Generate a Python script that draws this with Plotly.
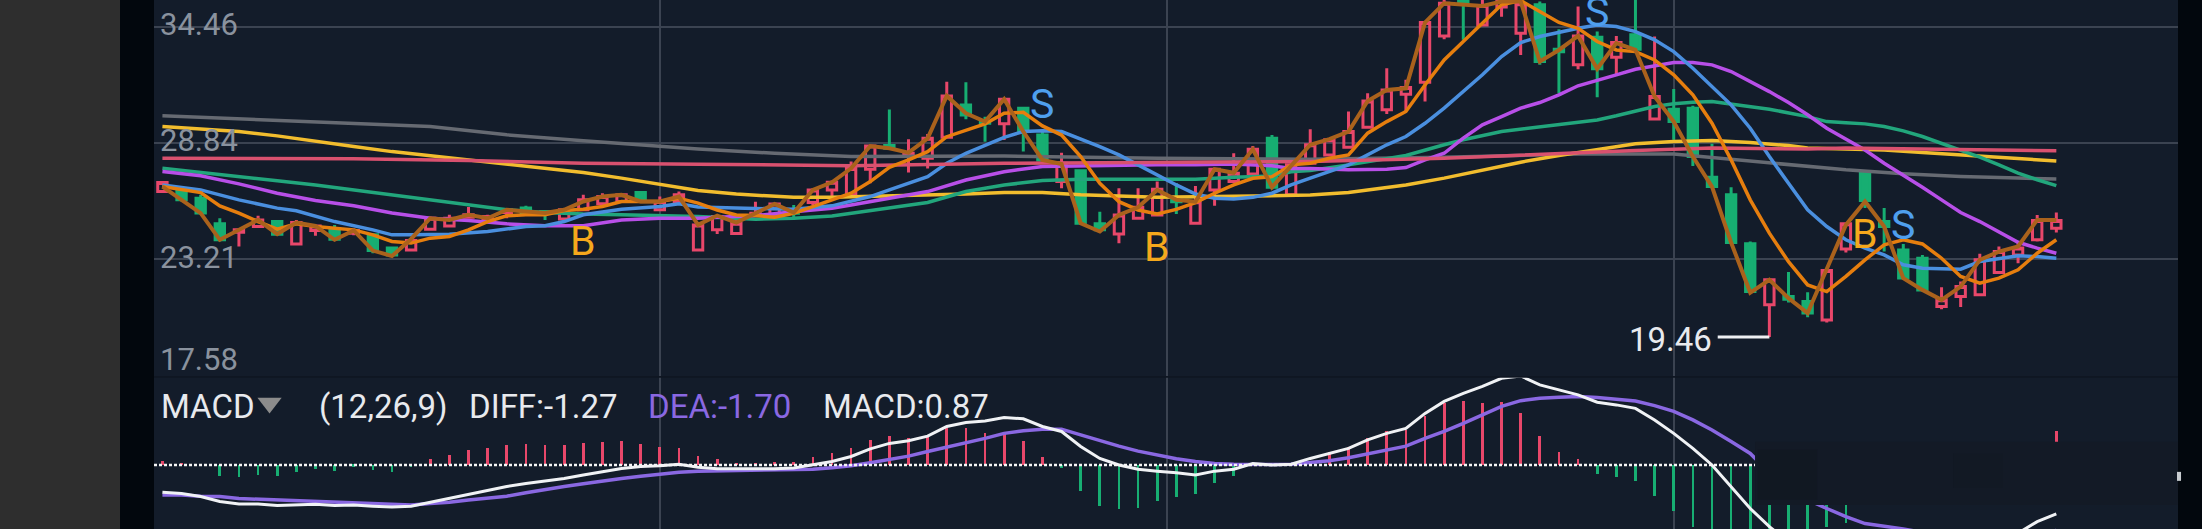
#!/usr/bin/env python3
"""
K-line chart with moving averages and a MACD panel below
"""

import plotly.graph_objects as go
from plotly.subplots import make_subplots

# Candles, one row per trading day
opens = [26.49,26.49,26.17,24.93,24.53,24.80,25.04,23.96,24.61,24.64,24.48,24.40,23.76,23.67,24.67,24.83,25.25,25.12,25.48,25.69,
         25.53,25.16,25.61,25.90,26.01,26.44,25.61,26.01,23.67,24.64,24.47,25.36,25.36,25.60,25.96,26.57,26.33,27.57,28.71,28.21,
         28.10,29.11,30.67,29.87,29.76,30.51,29.22,26.97,27.50,24.93,24.44,25.20,25.36,26.09,24.96,26.57,26.97,27.34,29.06,26.33,
         27.86,28.26,28.63,29.60,30.44,31.19,31.77,34.01,36.23,34.54,35.40,34.14,35.51,33.37,32.61,33.95,32.98,34.06,29.99,30.47,
         30.52,27.18,26.33,23.97,21.02,21.42,21.18,20.29,23.71,27.38,25.04,23.67,23.27,20.94,21.42,21.50,22.58,23.43,24.16,24.72]
highs = [26.93,26.57,26.33,25.20,24.64,25.32,25.09,25.12,24.88,24.88,24.72,24.43,23.80,24.19,25.28,25.37,25.74,25.37,25.69,25.80,
         25.57,25.64,26.33,26.41,26.38,26.49,26.25,26.49,24.93,25.36,25.20,26.00,25.92,25.84,26.65,27.02,27.94,28.74,30.46,29.02,
         29.27,31.80,31.77,30.11,31.00,30.56,29.47,28.37,27.53,25.52,26.65,26.65,26.97,26.89,26.76,27.61,28.34,28.69,29.22,27.86,
         29.50,29.07,30.36,31.24,32.45,31.89,34.66,35.78,36.39,35.91,35.99,35.80,35.67,34.33,35.43,34.22,34.01,35.78,33.98,31.44,
         30.63,28.80,26.70,24.08,22.26,22.60,21.63,22.71,24.97,27.41,25.69,23.96,23.43,21.87,22.15,23.48,23.84,24.00,25.36,25.48]
lows = [26.44,26.01,25.45,24.08,23.84,24.77,24.38,23.92,24.35,24.13,24.38,23.51,23.38,23.64,24.64,24.80,25.22,25.04,25.20,25.45,
        25.12,25.12,25.57,25.80,25.96,26.01,25.57,25.96,23.64,24.44,24.44,25.33,25.33,25.12,25.84,26.17,26.29,26.89,28.50,27.41,
        27.61,29.06,29.98,28.90,28.98,28.42,27.94,26.65,24.93,24.51,23.99,25.17,25.28,25.41,24.93,25.80,26.92,27.29,26.60,26.29,
        27.78,28.18,28.59,29.55,30.24,30.36,30.84,33.85,33.82,34.49,34.94,33.09,32.61,31.24,32.40,31.05,32.13,33.34,29.95,28.99,
        27.73,26.65,24.00,21.61,19.46,21.13,20.42,20.17,23.55,25.69,23.59,22.26,21.71,20.81,20.91,21.47,22.55,23.03,24.08,24.51]
closes = [26.93,26.09,25.45,24.16,24.64,25.12,24.43,24.99,24.83,24.19,24.61,23.64,23.43,24.13,25.20,25.20,25.37,25.28,25.61,25.48,
          25.45,25.61,26.09,26.25,26.33,26.09,26.01,26.33,24.88,25.28,24.96,25.44,25.89,25.44,26.57,26.94,27.61,28.69,28.58,28.34,
          29.06,31.11,30.19,29.79,30.95,29.39,28.02,27.86,24.96,24.64,25.36,25.73,26.60,26.00,26.00,27.57,27.37,28.53,26.70,27.78,
          28.75,28.99,29.39,30.87,31.40,31.52,34.66,35.59,35.56,35.48,35.83,35.56,32.77,33.25,34.01,32.42,33.69,33.37,31.08,29.87,
          28.18,26.73,24.03,21.66,22.23,21.29,20.62,22.68,24.93,26.06,24.80,22.31,21.74,21.26,21.90,23.19,23.59,23.76,25.09,25.09]

# Close line and fast average have a value on every day
close_line = [26.73,26.09,25.45,24.16,24.64,25.12,24.43,24.99,24.83,24.16,24.61,23.64,23.38,24.20,25.20,25.12,25.37,25.20,25.61,25.53,
              25.45,25.61,26.01,26.25,26.33,26.01,26.01,26.25,24.88,25.33,24.99,25.44,25.89,25.47,26.57,26.94,27.61,28.69,28.58,28.37,
              29.06,31.11,30.27,29.87,30.95,29.39,28.02,27.82,24.96,24.56,25.36,25.73,26.57,26.09,26.00,27.57,27.40,28.53,26.70,27.73,
              28.75,29.02,29.39,30.87,31.40,31.48,34.66,35.59,35.51,35.46,35.67,35.67,32.77,33.33,34.01,32.42,33.66,33.34,31.08,29.87,
              28.18,26.73,24.03,21.61,22.23,21.34,20.62,22.71,24.88,26.01,24.80,22.31,21.74,21.26,21.90,23.19,23.59,23.84,25.12,25.12]
ma5 = [26.73,26.60,26.44,25.80,25.45,25.04,24.67,24.93,24.80,24.72,24.64,24.40,24.08,24.00,24.24,24.32,24.64,25.04,25.32,25.37,
       25.37,25.57,25.64,25.77,26.01,26.01,26.01,26.17,25.93,25.60,25.36,25.33,25.25,25.44,25.76,26.09,26.41,26.97,27.66,28.02,
       28.42,29.14,29.47,29.76,30.27,30.32,29.66,29.22,28.18,26.89,26.00,25.60,25.41,25.63,25.96,26.41,26.81,27.13,27.21,27.78,
       27.86,28.10,28.26,29.31,29.87,30.36,31.64,32.85,33.74,34.62,35.51,35.72,35.19,34.66,34.38,33.74,33.33,33.25,32.85,32.13,
       31.16,29.79,28.02,26.09,24.48,23.10,21.98,21.66,22.39,23.19,23.92,24.16,23.96,23.27,22.39,22.06,22.31,22.71,23.51,24.16]

# Slower averages, read at the days where the line bends
ma10_x = [0,2,4,6,7,9,11,12,13,15,17,19,20,21,22,24,26,27,28,30,33,35,37,38,40,41,42,44,45,46,47,49,50,51,52,53,54,55,56,57,58,59,
          60,62,64,65,66,67,69,70,71,72,74,75,76,77,78,79,80,81,82,83,84,85,86,87,88,89,90,91,92,93,94,95,96,97,98,99]
ma10 = [26.81,26.57,26.09,25.69,25.56,25.04,24.64,24.40,24.40,24.43,24.56,24.80,24.84,25.04,25.37,25.64,25.77,25.90,25.74,25.68,25.63,25.80,26.25,26.57,27.21,27.86,28.34,29.11,29.39,29.43,29.39,28.66,28.26,27.78,27.29,26.81,26.37,26.17,26.13,26.21,26.41,26.81,
        27.14,27.78,28.75,29.15,29.79,30.52,32.13,33.01,33.69,33.98,34.38,34.54,34.46,34.22,33.82,33.25,32.45,31.56,30.68,29.55,28.18,26.89,25.61,24.80,24.16,23.76,23.43,22.95,22.79,22.76,22.74,23.11,23.27,23.39,23.35,23.27]
ma20_x = [0,2,4,6,8,10,12,14,16,18,20,22,24,26,28,31,33,35,36,38,40,42,44,46,48,50,52,54,56,58,59,
          60,62,64,65,66,67,68,69,70,71,72,73,74,75,76,77,78,79,80,81,82,83,84,85,86,87,88,89,90,91,92,93,94,95,96,97,98,99]
ma20 = [27.46,27.25,26.86,26.41,26.06,25.80,25.45,25.20,25.09,24.93,24.84,24.84,25.12,25.20,25.20,25.33,25.52,25.68,25.84,26.17,26.49,27.05,27.45,27.70,27.74,27.74,27.78,27.78,27.82,27.74,27.61,
        27.60,27.54,27.57,27.65,28.02,28.34,29.07,29.71,30.11,30.52,30.79,31.16,31.60,31.85,32.13,32.40,32.58,32.72,32.72,32.61,32.29,31.81,31.32,30.79,30.20,29.55,29.02,28.50,27.86,27.30,26.70,26.09,25.48,25.04,24.53,24.04,23.76,23.51]
ma30_x = [0,2,4,6,8,10,12,14,16,18,20,22,24,26,28,31,33,35,37,40,42,44,46,48,50,52,54,56,58,59,
          60,62,64,65,67,68,70,72,74,75,76,77,78,79,80,81,82,83,84,86,87,88,89,90,91,92,93,94,95,96,97,98,99]
ma30 = [27.62,27.43,27.22,27.01,26.81,26.57,26.30,26.06,25.82,25.61,25.48,25.40,25.37,25.32,25.28,25.15,25.20,25.31,25.57,25.96,26.49,26.81,27.02,27.08,27.08,27.08,27.08,27.18,27.24,27.45,
        27.51,27.78,28.10,28.23,28.75,28.99,29.39,29.63,29.83,29.95,30.15,30.36,30.60,30.73,30.81,30.84,30.73,30.60,30.47,30.11,29.87,29.82,29.76,29.63,29.42,29.15,28.83,28.47,28.15,27.78,27.38,27.06,26.78]
ma60_x = [0,4,6,8,10,12,14,16,18,20,22,24,26,28,30,33,35,37,40,42,44,46,48,50,52,55,58,59,
          60,62,65,67,69,71,73,75,77,79,81,83,85,86,88,90,92,94,96,97,99]
ma60 = [29.63,29.39,29.18,28.91,28.67,28.42,28.22,27.99,27.78,27.62,27.41,27.14,26.86,26.54,26.37,26.21,26.21,26.25,26.29,26.37,26.44,26.44,26.33,26.25,26.21,26.25,26.28,26.30,
        26.32,26.44,26.81,27.14,27.54,27.91,28.23,28.50,28.80,28.91,28.96,28.86,28.71,28.59,28.54,28.50,28.38,28.26,28.15,28.07,27.97]
ma120_x = [0,10,16,22,28,36,44,52,60,67,72,77,81,86,88,92,96,99]
ma120 = [28.10,28.07,27.99,27.86,27.81,27.74,27.86,27.90,27.94,28.10,28.30,28.47,28.59,28.55,28.59,28.54,28.50,28.46]
ma250_x = [0,8,14,18,22,28,32,36,44,52,60,67,74,79,82,85,88,91,94,97,99]
ma250 = [30.15,29.87,29.63,29.23,28.94,28.55,28.34,28.18,28.21,28.10,28.05,28.15,28.31,28.30,28.05,27.78,27.54,27.35,27.22,27.14,27.10]

# MACD panel
macd_hist = [0.11,0.04,-0.03,-0.29,-0.32,-0.26,-0.29,-0.17,-0.11,-0.15,-0.04,-0.13,-0.17,-0.06,0.15,0.26,0.39,0.43,0.52,0.54,
             0.52,0.53,0.58,0.60,0.61,0.54,0.46,0.45,0.23,0.16,0.03,0.03,0.09,0.09,0.20,0.30,0.43,0.65,0.74,0.71,
             0.74,0.95,0.95,0.84,0.81,0.61,0.20,-0.09,-0.67,-1.06,-1.13,-1.11,-0.93,-0.83,-0.75,-0.46,-0.29,0.04,0.02,0.02,
             0.04,0.35,0.46,0.71,0.87,0.91,1.27,1.60,1.67,1.60,1.63,1.36,0.74,0.35,0.15,-0.24,-0.32,-0.42,-0.80,-1.19,
             -1.60,-1.75,-1.75,-1.75,-1.70,-1.70,-1.65,-1.60,-1.50,-0.95,-0.70,-0.55,-0.35,-0.15,0.10,0.25,0.40,0.50,0.56,0.87]
diff = [-0.71,-0.74,-0.82,-0.95,-1.01,-1.01,-1.05,-1.03,-1.02,-1.05,-1.04,-1.07,-1.09,-1.07,-0.97,-0.87,-0.77,-0.67,-0.56,-0.48,
        -0.42,-0.35,-0.26,-0.17,-0.09,-0.04,-0.02,0.02,-0.06,-0.10,-0.10,-0.11,-0.10,-0.08,0.01,0.09,0.22,0.42,0.56,0.63,
        0.75,1.00,1.10,1.14,1.23,1.20,1.00,0.87,0.48,0.17,0.00,-0.11,-0.16,-0.20,-0.26,-0.16,-0.11,0.04,0.00,0.02,
        0.17,0.30,0.43,0.65,0.82,0.95,1.34,1.65,1.86,2.04,2.25,2.31,2.08,1.95,1.82,1.63,1.56,1.47,1.17,0.82,
        0.43,0.00,-0.56,-1.13,-1.60,-2.00,-2.30,-2.50,-2.60,-2.55,-2.50,-2.50,-2.50,-2.50,-2.40,-2.25,-2.00,-1.77,-1.47,-1.27]
dea = [-0.78,-0.78,-0.81,-0.82,-0.87,-0.89,-0.92,-0.94,-0.95,-0.97,-0.99,-1.00,-1.02,-1.04,-1.00,-0.97,-0.91,-0.87,-0.81,-0.72,
       -0.63,-0.56,-0.49,-0.41,-0.35,-0.29,-0.23,-0.19,-0.16,-0.15,-0.15,-0.15,-0.14,-0.13,-0.11,-0.07,-0.02,0.06,0.15,0.23,
       0.35,0.46,0.58,0.69,0.82,0.89,0.93,0.93,0.78,0.63,0.49,0.36,0.26,0.16,0.09,0.04,0.02,0.01,0.01,0.02,
       0.06,0.11,0.19,0.29,0.39,0.49,0.69,0.87,1.08,1.30,1.52,1.67,1.73,1.76,1.78,1.75,1.71,1.66,1.54,1.39,
       1.17,0.91,0.61,0.30,-0.20,-0.55,-0.90,-1.13,-1.34,-1.52,-1.58,-1.66,-1.75,-1.85,-1.90,-1.95,-1.95,-1.90,-1.80,-1.70]

days = list(range(len(opens)))
price_ticks = [23.21, 28.84, 34.46]
time_ticks = [26, 52.5, 79]

# B / S signal labels: day, price, letter
signals = [(22, 24.08, "B"), (46, 30.70, "S"), (52, 23.80, "B"), (75, 35.16, "S"), (89, 24.42, "B"), (91, 24.88, "S")]

UP = "#e8476a"
DOWN = "#17ae72"
PANEL = "#131c2a"
GRID = "#3b4351"
LABEL = "#8a929e"
WHITE = "#e8eaee"
FONT = "Roboto"

fig = make_subplots(rows=2, cols=1, shared_xaxes=True, vertical_spacing=0, row_heights=[376, 153])

fig.add_trace(go.Candlestick(
    x=days, open=opens, high=highs, low=lows, close=closes,
    increasing=dict(line=dict(color=UP, width=3), fillcolor="rgba(0,0,0,0)"),
    decreasing=dict(line=dict(color=DOWN, width=3), fillcolor=DOWN),
), row=1, col=1)

ma_lines = [
    (ma250_x, ma250, "#666a72", 3.5),
    (ma60_x, ma60, "#f2bd2e", 3.5),
    (ma30_x, ma30, "#22a67c", 3.5),
    (ma20_x, ma20, "#b84fe8", 3.5),
    (ma10_x, ma10, "#4a8fdf", 3.5),
    (ma120_x, ma120, "#d9516f", 3.5),
    (days, ma5, "#e67e0e", 3.5),
    (days, close_line, "#aa621c", 4),
]
for xs, ys, color, width in ma_lines:
    fig.add_trace(go.Scatter(x=xs, y=ys, mode="lines", line=dict(color=color, width=width)), row=1, col=1)

fig.add_trace(go.Bar(
    x=days, y=macd_hist, width=0.14,
    marker=dict(color=[UP if v > 0 else DOWN for v in macd_hist], line_width=0),
), row=2, col=1)
fig.add_trace(go.Scatter(x=days, y=dea, mode="lines", line=dict(color="#8a68e2", width=3.5)), row=2, col=1)
fig.add_trace(go.Scatter(x=days, y=diff, mode="lines", line=dict(color="#f0f2f5", width=3)), row=2, col=1)

# dropdown arrow next to the MACD title
fig.add_trace(go.Scatter(x=[5.6], y=[1.61], mode="markers", marker=dict(symbol="triangle-down", size=21, color="#8c8c8c")), row=2, col=1)

# dotted zero line of the MACD panel
fig.add_hline(y=0, line=dict(color="#f4f4f4", width=2.5, dash="3px,2px"), row=2, col=1)

# low marker
fig.add_shape(type="line", x0=81.3, x1=84, y0=19.46, y1=19.46, line=dict(color="#eef0f3", width=3), row=1, col=1)
fig.add_annotation(x=81.1, y=19.46, yshift=-2, text="19.46", showarrow=False, xanchor="right",
                   font=dict(family=FONT, size=33, color=WHITE), row=1, col=1)

for day, price, letter in signals:
    color = "#f5a81c" if letter == "B" else "#4f9fee"
    fig.add_annotation(x=day, y=price, text=letter, showarrow=False, font=dict(family=FONT, size=41, color=color), row=1, col=1)

# price labels sit inside the panel
for tick in price_ticks:
    fig.add_annotation(x=-0.22, y=tick, yshift=2, text=f"{tick:.2f}", showarrow=False, xanchor="left",
                       font=dict(family=FONT, size=31, color=LABEL), row=1, col=1)
fig.add_annotation(x=-0.22, y=18.36, text="17.58", showarrow=False, xanchor="left", font=dict(family=FONT, size=31, color=LABEL), row=1, col=1)

# MACD header row
header = [
    (-0.2, "MACD", WHITE),
    (8.1, "(12,26,9)", WHITE),
    (15.9, "DIFF:-1.27", WHITE),
    (25.3, "DEA:-1.70", "#8a68e2"),
    (34.4, "MACD:0.87", WHITE),
]
for x, text, color in header:
    fig.add_annotation(x=x, y=1.52, text=text, showarrow=False, xanchor="left", font=dict(family=FONT, size=33, color=color), row=2, col=1)

# faint line between the two panels
fig.add_shape(type="line", xref="x2", yref="y2", x0=-0.44, x1=105.36, y0=2.29, y1=2.29, line=dict(color="#0f1622", width=2))

# smudge over the MACD panel, left in the screenshot
fig.add_shape(type="rect", xref="x2", yref="y2", x0=83.25, x1=105.36, y0=-1.04, y1=0.60,
              fillcolor="#131a26", line_width=0, layer="above")
fig.add_shape(type="rect", xref="x2", yref="y2", x0=83.4, x1=86.5, y0=-0.9, y1=0.4,
              fillcolor="#10161f", opacity=0.4, line_width=0, layer="above")
fig.add_shape(type="rect", xref="x2", yref="y2", x0=93.6, x1=96.2, y0=-0.6, y1=0.3,
              fillcolor="#10161f", opacity=0.25, line_width=0, layer="above")

# dark borders left and right of the chart
fig.add_shape(type="rect", xref="paper", yref="paper", x0=-154 / 2024, x1=-34 / 2024, y0=0, y1=1,
              fillcolor="#2e2e2e", line_width=0, layer="below")
fig.add_shape(type="rect", xref="paper", yref="paper", x0=0.9995, x1=1.0015, y0=0.091, y1=0.108,
              fillcolor="#c8ccd0", line_width=0, layer="above")

fig.update_layout(
    width=2202, height=529,
    margin=dict(l=154, r=24, t=0, b=0),
    paper_bgcolor="#02070d",
    plot_bgcolor=PANEL,
    showlegend=False,
    bargap=0,
    font=dict(family=FONT),
)
fig.update_xaxes(range=[-0.44, 105.36], tickvals=time_ticks, showticklabels=False, showgrid=True, gridcolor=GRID, gridwidth=2,
                 zeroline=False, rangeslider_visible=False, showline=False, ticks="")
fig.update_yaxes(range=[17.58, 35.744], tickvals=price_ticks, showticklabels=False, showgrid=True, gridcolor=GRID, gridwidth=2,
                 zeroline=False, showline=False, ticks="", row=1, col=1)
fig.update_yaxes(range=[-1.662, 2.31], showticklabels=False, showgrid=False, zeroline=False, showline=False, ticks="", row=2, col=1)

fig.write_html("out.html", config=dict(displayModeBar=False),
               post_script="document.body.style.margin='0';document.body.style.overflow='hidden';")
